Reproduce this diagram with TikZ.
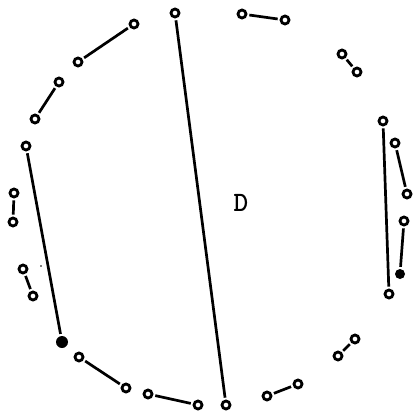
\documentclass[tikz,border=0pt]{standalone}
\begin{document}
\begin{tikzpicture}[x=1pt,y=-1pt,
  ring/.style={circle,draw,line width=2.8pt,minimum size=8pt,inner sep=0pt},
  blob/.style={circle,fill,minimum size=12pt,inner sep=0pt},
  link/.style={line width=2.7pt,shorten <=2pt,shorten >=2pt}]
\useasboundingbox (0,0) rectangle (415,417);
% top long chord
\node[ring] (a1) at (175,13) {};
\node[ring] (a2) at (226,405) {};
% left chord
\node[ring] (b1) at (26,146) {};
\node[blob] (b2) at (62,342) {};
% right chord
\node[ring] (c1) at (383,121) {};
\node[ring] (c2) at (389,294) {};
% pairs
\node[ring] (d1) at (134,24) {};
\node[ring] (d2) at (78,62) {};
\node[ring] (e1) at (59,82) {};
\node[ring] (e2) at (35,119) {};
\node[ring] (f1) at (14,193) {};
\node[ring] (f2) at (13,222) {};
\node[ring] (g1) at (23,269) {};
\node[ring] (g2) at (33,296) {};
\node[ring] (h1) at (79,357) {};
\node[ring] (h2) at (126,388) {};
\node[ring] (i1) at (148,394) {};
\node[ring] (i2) at (198,405) {};
\node[ring] (j1) at (267,396) {};
\node[ring] (j2) at (298,384) {};
\node[ring] (k1) at (338,356) {};
\node[ring] (k2) at (355,339) {};
\node[ring] (l1) at (404,221) {};
\node[blob,minimum size=10pt] (l2) at (400,274) {};
\node[ring] (m1) at (395,143) {};
\node[ring] (m2) at (407,194) {};
\node[ring] (n1) at (342,54) {};
\node[ring] (n2) at (357,72) {};
\node[ring] (o1) at (242,14) {};
\node[ring] (o2) at (285,20) {};
\fill (41,266) circle (0.9);
\node[font=\ttfamily\bfseries\fontsize{28}{28}\selectfont] (lab) at (241,203) {D};
\foreach \u/\v in {a1/a2,b1/b2,c1/c2,d1/d2,e1/e2,f1/f2,g1/g2,h1/h2,i1/i2,j1/j2,k1/k2,l1/l2,m1/m2,n1/n2,o1/o2}
  \draw[link] (\u) -- (\v);
\end{tikzpicture}
\end{document}
